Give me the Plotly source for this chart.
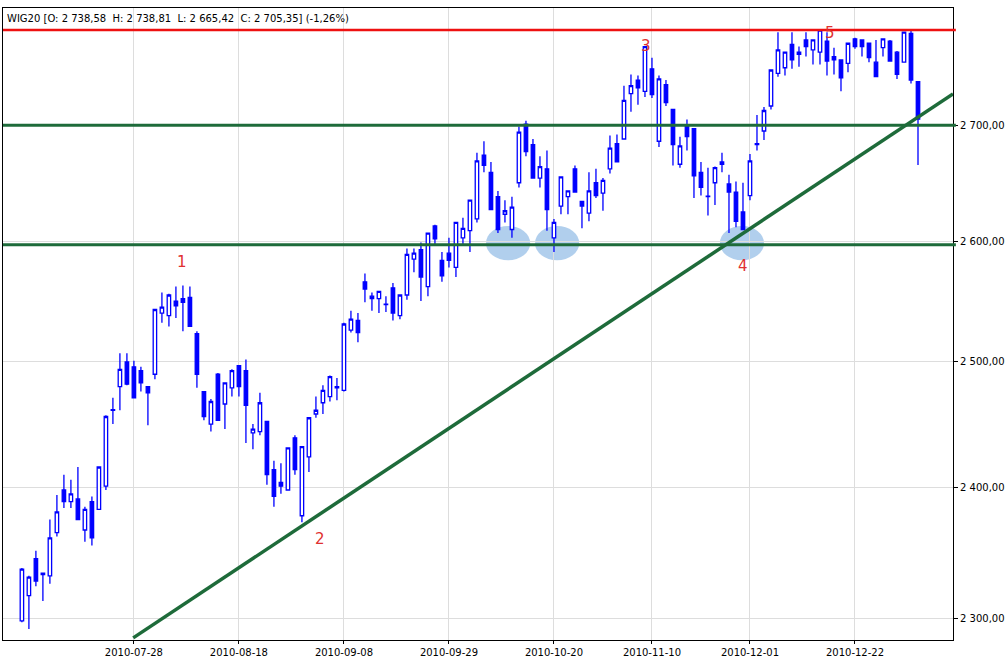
import pandas as pd
import plotly.graph_objs as go

# WIG20 daily candles, Jul 2010 - Jan 2011
opens = [2298, 2317, 2345, 2333, 2332, 2365, 2398, 2389, 2391, 2367, 2389, 2383, 2401, 2461, 2480, 2500, 2496, 2493, 2480, 2490,
         2540, 2538, 2550, 2552, 2553, 2523, 2476, 2450, 2490, 2466, 2479, 2497, 2493, 2443, 2444, 2452, 2414, 2404, 2398, 2439,
         2378, 2424, 2458, 2467, 2472, 2479, 2477, 2526, 2534, 2566, 2554, 2552, 2547, 2561, 2538, 2555, 2585, 2593, 2562, 2613,
         2584, 2590, 2578, 2603, 2609, 2619, 2674, 2659, 2638, 2623, 2610, 2650, 2701, 2683, 2654, 2662, 2603, 2630, 2638, 2662,
         2634, 2624, 2650, 2641, 2662, 2684, 2688, 2728, 2740, 2730, 2750, 2686, 2736, 2714, 2666, 2700, 2697, 2659, 2638, 2650,
         2666, 2649, 2642, 2625, 2639, 2683, 2695, 2717, 2746, 2751, 2772, 2763, 2776, 2767, 2765, 2775, 2761, 2758, 2755, 2777,
         2776, 2773, 2756, 2769, 2775, 2765, 2756, 2782, 2738.58]
highs = [2338, 2332, 2351, 2334, 2375, 2394, 2410, 2406, 2416, 2385, 2393, 2416, 2457, 2471, 2507, 2507, 2501, 2496, 2480, 2543,
         2557, 2556, 2562, 2563, 2562, 2525, 2476, 2470, 2491, 2483, 2494, 2497, 2502, 2450, 2475, 2452, 2421, 2419, 2431, 2441,
         2432, 2455, 2472, 2481, 2489, 2487, 2532, 2542, 2540, 2573, 2557, 2558, 2554, 2565, 2555, 2594, 2594, 2599, 2607, 2614,
         2591, 2603, 2616, 2620, 2635, 2676, 2686, 2668, 2643, 2635, 2638, 2699, 2704, 2688, 2673, 2678, 2619, 2655, 2643, 2665,
         2634, 2659, 2662, 2654, 2691, 2692, 2735, 2745, 2744, 2770, 2760, 2744, 2740, 2714, 2690, 2705, 2697, 2668, 2663, 2664,
         2676, 2657, 2651, 2650, 2675, 2709, 2716, 2749, 2783, 2765, 2783, 2770, 2783, 2776, 2786, 2783, 2769, 2758, 2773, 2778,
         2776, 2773, 2776, 2777, 2776, 2766, 2783, 2786, 2738.81]
lows = [2297, 2292, 2324, 2313, 2326, 2362, 2384, 2384, 2375, 2358, 2355, 2383, 2398, 2450, 2461, 2481, 2471, 2476, 2449, 2486,
        2532, 2529, 2536, 2525, 2529, 2479, 2453, 2444, 2453, 2446, 2472, 2472, 2435, 2430, 2441, 2402, 2385, 2395, 2398, 2410,
        2373, 2412, 2455, 2458, 2468, 2469, 2476, 2524, 2516, 2549, 2542, 2540, 2541, 2534, 2535, 2551, 2574, 2550, 2554, 2597,
        2566, 2578, 2570, 2596, 2591, 2616, 2659, 2627, 2607, 2616, 2603, 2646, 2673, 2654, 2646, 2609, 2591, 2623, 2623, 2642,
        2611, 2617, 2637, 2626, 2658, 2668, 2688, 2712, 2718, 2725, 2724, 2681, 2717, 2665, 2663, 2678, 2637, 2639, 2622, 2631,
        2659, 2607, 2612, 2610, 2635, 2678, 2687, 2714, 2743, 2744, 2750, 2752, 2761, 2754, 2754, 2744, 2745, 2730, 2747, 2768,
        2761, 2756, 2743, 2761, 2757, 2741, 2756, 2737, 2665.42]
closes = [2337, 2331, 2328, 2334, 2361, 2381, 2389, 2395, 2375, 2383, 2361, 2416, 2456, 2461.5, 2494, 2482, 2471, 2483, 2475, 2543,
          2545, 2555, 2546, 2549, 2529, 2490, 2456, 2468, 2453, 2483, 2493, 2480, 2465, 2446, 2467, 2410, 2393, 2401, 2431, 2414,
          2432, 2455, 2461, 2477, 2488, 2480, 2531, 2535, 2524, 2560, 2552, 2558, 2547.5, 2540, 2555, 2589, 2590, 2570, 2607, 2602,
          2571, 2584, 2616, 2611, 2635, 2669, 2665, 2627, 2610, 2626, 2629, 2694, 2677, 2654, 2664, 2627, 2616, 2655, 2643, 2642,
          2630, 2643, 2639, 2652, 2680, 2668, 2722, 2735, 2733, 2770, 2727, 2741, 2720, 2683, 2682, 2690, 2656, 2646, 2638.5, 2663,
          2668, 2642, 2617, 2610, 2669, 2684, 2713, 2749, 2767, 2765, 2758, 2765, 2770, 2776, 2785, 2757, 2758, 2742, 2773, 2770,
          2770, 2760, 2743, 2777, 2757, 2745, 2783, 2740, 2705.35]

holidays = ["2010-11-01", "2010-11-11", "2010-12-24", "2010-12-31", "2011-01-06"]
days = [d for d in pd.bdate_range("2010-07-06", "2011-01-20").strftime("%Y-%m-%d") if d not in holidays]
dates = days[:len(closes)]

tick_dates = ["2010-07-28", "2010-08-18", "2010-09-08", "2010-09-29", "2010-10-20", "2010-11-10", "2010-12-01", "2010-12-22"]
y_ticks = [2300, 2400, 2500, 2600, 2700]
y_labels = ["2 300,00", "2 400,00", "2 500,00", "2 600,00", "2 700,00"]

resistance = 2785
levels = [2700, 2597]
trend = [(15.9, 2285.4), (133, 2727.6)]
circles = [(66.3, 72.6), (73.3, 79.6), (99.7, 106.0)]
waves = [("1", 175, 262), ("2", 320, 550), ("3", 653, 35), ("4", 750, 266), ("5", 837, 22)]

fig = go.Figure(go.Candlestick(
    x=dates, open=opens, high=highs, low=lows, close=closes,
    increasing=dict(line=dict(color="#0000ff", width=1.3), fillcolor="white"),
    decreasing=dict(line=dict(color="#0000ff", width=1.3), fillcolor="#0000ff"),
    whiskerwidth=0, showlegend=False, hoverinfo="x+y"))

shapes = []
for x0, x1 in circles:
    shapes.append(dict(type="circle", xref="x", yref="y", x0=x0, x1=x1, y0=2584, y1=2613,
                       fillcolor="rgba(100,160,220,0.5)", line=dict(width=0), layer="below"))
shapes.append(dict(type="line", xref="paper", yref="y", x0=0, x1=1.003, y0=resistance, y1=resistance,
                   line=dict(color="#ee1111", width=2.5)))
for lv in levels:
    shapes.append(dict(type="line", xref="paper", yref="y", x0=0, x1=1.003, y0=lv, y1=lv,
                       line=dict(color="#1e6b3a", width=3)))
shapes.append(dict(type="line", xref="x", yref="y", x0=trend[0][0], y0=trend[0][1], x1=trend[1][0], y1=trend[1][1],
                   line=dict(color="#1e6b3a", width=3.5)))

annotations = [dict(text=t, xref="paper", yref="paper", x=(px - 3) / 950, y=(640 - py) / 632,
                    showarrow=False, font=dict(color="#e03030", size=15, family="DejaVu Sans"))
               for t, px, py in waves]
annotations.append(dict(text="WIG20 [O: 2 738,58  H: 2 738,81  L: 2 665,42  C: 2 705,35] (-1,26%)",
                        xref="paper", yref="paper", x=0.002, y=0.995, xanchor="left", yanchor="top",
                        showarrow=False, font=dict(size=10, color="black", family="DejaVu Sans")))

fig.update_layout(
    width=1008, height=667, margin=dict(l=3, r=55, t=8, b=27),
    paper_bgcolor="white", plot_bgcolor="white",
    font=dict(family="DejaVu Sans", size=10, color="black"),
    shapes=shapes, annotations=annotations,
    xaxis=dict(type="category", range=[-2.7, 133], tickvals=tick_dates, ticktext=tick_dates,
               showgrid=True, gridcolor="#dddddd", showline=True, linecolor="black", mirror=True,
               rangeslider=dict(visible=False), ticks="outside", ticklen=3, tickcolor="black"),
    yaxis=dict(type="log", range=[3.35866, 3.44793], side="right", tickvals=y_ticks, ticktext=y_labels,
               showgrid=True, gridcolor="#dddddd", showline=True, linecolor="black", mirror=True,
               ticks="outside", ticklen=4, tickcolor="black"),
)

# the page has a default body margin; drop it so the chart sits at the window corner
fig.write_html("out.html", config={"displayModeBar": False},
               post_script="document.body.style.margin='0';")
